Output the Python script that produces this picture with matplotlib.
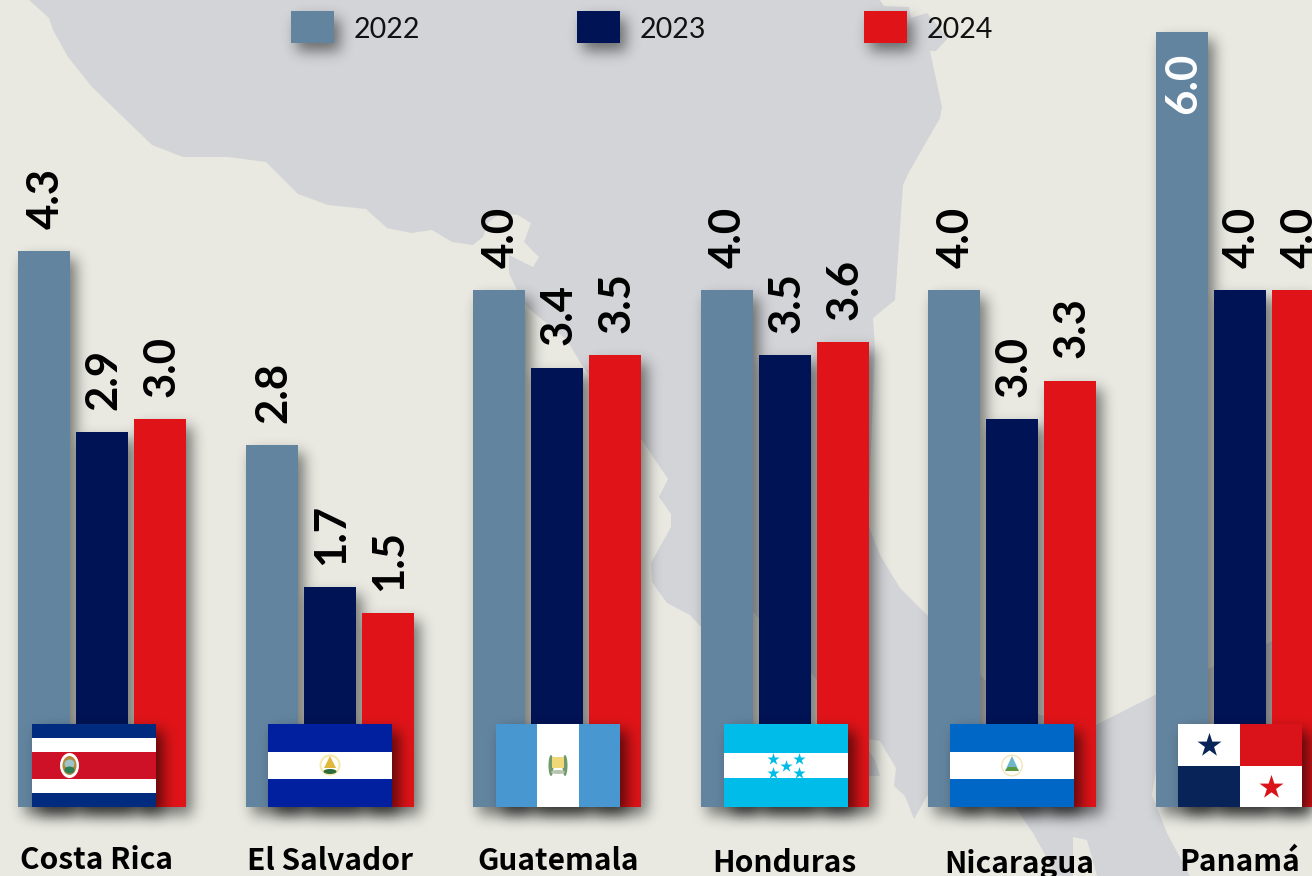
import matplotlib
matplotlib.use('Agg')
import matplotlib.pyplot as plt
import numpy as np
from matplotlib.patches import Polygon, Rectangle, Ellipse, Circle

W, H = 1312, 876

countries = ['Costa Rica', 'El Salvador', 'Guatemala', 'Honduras', 'Nicaragua', 'Panamá']
years = ['2022', '2023', '2024']
v2022 = [4.3, 2.8, 4.0, 4.0, 4.0, 6.0]
v2023 = [2.9, 1.7, 3.4, 3.5, 3.0, 4.0]
v2024 = [3.0, 1.5, 3.5, 3.6, 3.3, 4.0]

colors = ['#63849f', '#001355', '#e01418']
BG = '#e9e9e2'
LAND = '#d2d4d7'

# outline of the map behind the bars, in pixels
land = [(29, 0), (49, 18), (53, 30), (68, 57), (92, 87), (152, 145), (183, 157), (228, 157),
        (266, 162), (298, 194), (328, 205), (366, 209), (387, 228), (411, 233), (432, 230),
        (452, 242), (473, 245), (483, 237), (488, 223), (500, 213), (518, 215), (531, 223),
        (524, 242), (539, 257), (533, 267), (509, 255), (509, 273), (517, 290), (527, 307),
        (567, 340), (583, 367), (641, 439), (668, 479), (659, 497), (671, 514), (671, 527),
        (651, 563), (652, 582), (667, 603), (690, 615), (701, 627), (753, 612), (812, 674),
        (868, 739), (880, 741), (896, 768), (894, 786), (905, 796), (914, 819), (927, 796),
        (950, 770), (1010, 790), (1015, 807), (1033, 833), (1057, 876), (1073, 876), (1073, 837),
        (1087, 840), (1097, 876), (1190, 876), (1167, 833), (1152, 795), (1156, 770), (1312, 760),
        (1312, 622), (1268, 643), (1210, 668), (1155, 695), (1096, 725), (1040, 715), (985, 680),
        (927, 615), (900, 588), (880, 555), (868, 524), (875, 350), (873, 318), (895, 300),
        (903, 185), (909, 172), (940, 118), (942, 107), (930, 51), (936, 51), (948, 38), (927, 13),
        (911, 18), (909, 7), (884, 6), (880, 0)]


def shadow_img(rects, dx=6, dy=8, sigma=7, alpha=0.5):
    a = np.zeros((H, W))
    for x0, y0, x1, y1 in rects:
        a[int(round(y0 + dy)):int(round(y1 + dy)), int(round(x0 + dx)):int(round(x1 + dx))] = 1
    r = np.arange(-3 * sigma, 3 * sigma + 1)
    k = np.exp(-r ** 2 / (2 * sigma ** 2))
    k /= k.sum()
    a = np.apply_along_axis(lambda c: np.convolve(c, k, mode='same'), 0, a)
    a = np.apply_along_axis(lambda c: np.convolve(c, k, mode='same'), 1, a)
    img = np.zeros((H, W, 4))
    img[..., 3] = a * alpha
    return img


def pixel_axes(z):
    a = fig.add_axes([0, 0, 1, 1], zorder=z)
    a.set_xlim(0, W)
    a.set_ylim(H, 0)
    a.axis('off')
    return a


plt.rcParams['font.family'] = ['Lato', 'DejaVu Sans']
fig = plt.figure(figsize=(W / 100, H / 100), dpi=100, facecolor=BG)

ax_bg = pixel_axes(0)
ax_bg.add_patch(Polygon(land, closed=True, fc=LAND, ec='none'))
ax_bg.add_patch(Polygon([(868, 750), (875, 760), (880, 776), (868, 776)], fc=LAND, ec='none'))

# bars, groups 227.6 px apart, baseline at y=807 and 129.2 px per unit
ax = fig.add_axes([0, 0, 1, 1], zorder=1)
ax.patch.set_alpha(0)
ax.set_xlim(-101.9 / 227.6, (W - 101.9) / 227.6)
ax.set_ylim(-(H - 807) / 129.2, 807 / 129.2)
ax.axis('off')

x = np.arange(len(countries))
bw = 52 / 227.6
off = 58 / 227.6
bars = []
for j, vals in enumerate([v2022, v2023, v2024]):
    bc = ax.bar(x + (j - 1) * off, vals, bw, color=colors[j], linewidth=0)
    bars += list(bc)
    for b, v in zip(bc, vals):
        cx = b.get_x() + bw / 2
        if v > 5:
            ax.annotate(f'{v:.1f}', (cx, v), xytext=(1, -15), textcoords='offset points', rotation=90,
                        ha='center', va='top', fontsize=31.5, fontweight='bold', color='white')
        else:
            ax.annotate(f'{v:.1f}', (cx, v), xytext=(1, 16), textcoords='offset points', rotation=90,
                        ha='center', va='bottom', fontsize=31.5, fontweight='bold', color='black')

fig.canvas.draw()
rects = []
for b in bars:
    e = b.get_window_extent()
    rects.append((e.x0, H - e.y1, e.x1, H - e.y0))

# legend
leg_x = [291, 577, 864]
leg_rects = [(lx, 11, lx + 43, 43) for lx in leg_x]
ax_bg.imshow(shadow_img(rects + leg_rects), extent=(0, W, H, 0), aspect='auto', zorder=3)
ax_bg.set_xlim(0, W)
ax_bg.set_ylim(H, 0)

ax_top = pixel_axes(2)
for lx, yr, c in zip(leg_x, years, colors):
    ax_top.add_patch(Rectangle((lx, 11), 43, 32, fc=c, ec='none'))
    ax_top.text(lx + 63, 38, yr, fontsize=20.5, va='baseline', ha='left', color='#111111')

# flags
flag_x = [32, 268, 496, 724, 950, 1178]
FW, FY0, FY1 = 124, 724, 807
flag_rects = [(fx, FY0, fx + FW, FY1) for fx in flag_x]
ax_top.imshow(shadow_img(flag_rects, dx=7, dy=7, sigma=7, alpha=0.6), extent=(0, W, H, 0),
              aspect='auto', zorder=1)
ax_top.set_xlim(0, W)
ax_top.set_ylim(H, 0)


def band(fx, y0, y1, c, x0=0, x1=FW):
    ax_top.add_patch(Rectangle((fx + x0, y0), x1 - x0, y1 - y0, fc=c, ec='none', zorder=2))


def blob(patch):
    patch.set_zorder(3)
    ax_top.add_patch(patch)


# Costa Rica
fx = flag_x[0]
for y0, y1, c in [(724, 738, '#002b7f'), (738, 752, 'white'), (752, 779, '#ce1126'),
                  (779, 793, 'white'), (793, 807, '#002b7f')]:
    band(fx, y0, y1, c)
blob(Ellipse((69.5, 765.5), 19, 25, fc='white', ec='none'))
blob(Ellipse((69.5, 765.5), 14, 19, fc='#b08a3c', ec='none'))
blob(Ellipse((69.5, 764), 10, 9, fc='#9fc4c8', ec='none'))
blob(Ellipse((69.5, 770), 10, 7, fc='#2f7d52', ec='none'))

# El Salvador
fx = flag_x[1]
for y0, y1, c in [(724, 751.5, '#0020a0'), (751.5, 779, 'white'), (779, 807, '#0020a0')]:
    band(fx, y0, y1, c)
blob(Circle((330, 765), 10.5, fc='#f6e9a8', ec='none'))
blob(Circle((330, 765), 8.5, fc='white', ec='none'))
blob(Polygon([(330, 756), (336, 768), (324, 768)], fc='#e0b83a', ec='none'))
blob(Ellipse((330, 771.5), 13, 5, fc='#2d6b3a', ec='none'))

# Guatemala
fx = flag_x[2]
band(fx, 724, 807, '#4997d0')
band(fx, 724, 807, 'white', 41, 83)
blob(Ellipse((551, 765.5), 5, 21, fc='#6f9a6a', ec='none'))
blob(Ellipse((565, 765.5), 5, 21, fc='#6f9a6a', ec='none'))
blob(Rectangle((552, 757), 12, 11, fc='#f0d878', ec='none'))
blob(Ellipse((558, 772), 14, 4, fc='#b9c4b0', ec='none'))

# Honduras
fx = flag_x[3]
for y0, y1, c in [(724, 752.5, '#00bce8'), (752.5, 778, 'white'), (778, 807, '#00bce8')]:
    band(fx, y0, y1, c)
ax_top.scatter([773, 799, 786, 773, 799], [759, 759, 766, 773, 773], marker='*', s=85,
               color='#00bce8', linewidths=0, zorder=3)

# Nicaragua
fx = flag_x[4]
for y0, y1, c in [(724, 751.5, '#0067c6'), (751.5, 779, 'white'), (779, 807, '#0067c6')]:
    band(fx, y0, y1, c)
blob(Circle((1012, 765.5), 11, fc='#f3e7bd', ec='none'))
blob(Circle((1012, 765.5), 9.5, fc='white', ec='none'))
blob(Polygon([(1012, 756), (1019, 771), (1005, 771)], fc='#6fb6c8', ec='none'))
blob(Polygon([(1008, 767), (1016, 767), (1019, 771), (1005, 771)], fc='#5a9a3c', ec='none'))

# Panama
fx = flag_x[5]
band(fx, 724, 765.5, 'white', 0, 62)
band(fx, 724, 765.5, '#da121a', 62, 124)
band(fx, 765.5, 807, '#072357', 0, 62)
band(fx, 765.5, 807, 'white', 62, 124)
ax_top.scatter([1208.5], [745], marker='*', s=330, color='#072357', linewidths=0, zorder=3)
ax_top.scatter([1271], [787], marker='*', s=330, color='#da121a', linewidths=0, zorder=3)

# country names
name_x = [97, 330, 558, 784, 1019, 1240]
name_y = [869, 870, 870, 872, 873, 871]
for nx, ny, n in zip(name_x, name_y, countries):
    ax_top.text(nx, ny, n, fontsize=21.5, fontweight='bold', ha='center', va='baseline', color='black',
                family=['Noto Sans CJK SC', 'DejaVu Sans'])

fig.savefig('out.png', dpi=100, facecolor=BG)
